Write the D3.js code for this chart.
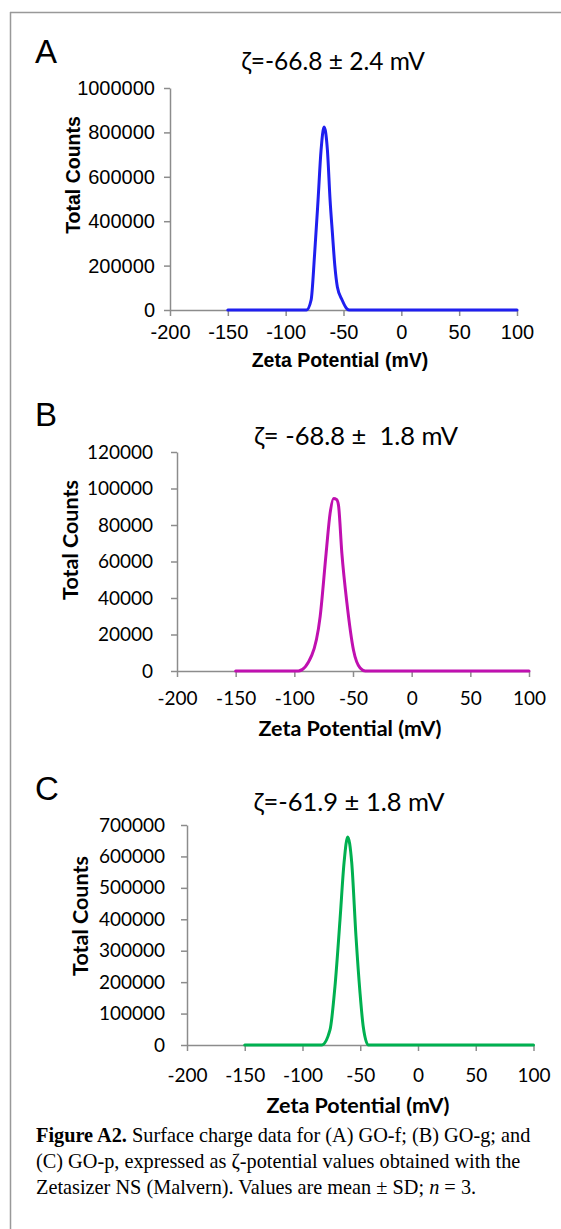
<!DOCTYPE html>
<html>
<head>
<meta charset="utf-8">
<script src="https://cdn.jsdelivr.net/npm/d3@7"></script>
<style>
  body { margin: 0; background: #fff; }
  text { white-space: pre; }
</style>
</head>
<body>
<svg id="fig" width="561" height="1229"></svg>
<script>
// x ticks shared by all three panels
var zetaTicks = [-200, -150, -100, -50, 0, 50, 100];

// panel A - GO-f
var zetaA = [-150, -120, -100, -82, -78, -75, -72, -69.4, -66.8, -63.9, -61.6, -59.6, -57.5, -55.3, -51.2, -47, -45, 0, 50, 100];
var countsA = [0, 0, 0, 0, 45000, 250000, 495000, 720000, 824000, 720000, 495000, 347000, 200000, 104000, 45000, 5000, 0, 0, 0, 0];
var yTicksA = [0, 200000, 400000, 600000, 800000, 1000000];

// panel B - GO-g
var zetaB = [-150, -120, -96.5, -85, -78, -72.9, -69.5, -66.5, -64, -62.4, -59.5, -55.2, -49.6, -43.9, -39.6, 0, 50, 100];
var countsB = [0, 0, 0, 8800, 29800, 64600, 86500, 94500, 94000, 91000, 64600, 37300, 11500, 1600, 0, 0, 0, 0];
var yTicksB = [0, 20000, 40000, 60000, 80000, 100000, 120000];

// panel C - GO-p
var zetaC = [-150, -120, -83.4, -76.2, -71.9, -67.5, -64, -60.9, -57.4, -53.7, -50.2, -47.4, -43, 0, 50, 100];
var countsC = [0, 0, 0, 48000, 186000, 400000, 581000, 662000, 581000, 346000, 166000, 58000, 0, 0, 0, 0];
var yTicksC = [0, 100000, 200000, 300000, 400000, 500000, 600000, 700000];

var panelLetters = ['A', 'B', 'C'];
var panelTitles = ['\u03b6=-66.8 \u00b1 2.4 mV', '\u03b6= -68.8 \u00b1  1.8 mV', '\u03b6=-61.9 \u00b1 1.8 mV'];

var panels = [
  { zeta: zetaA, counts: countsA, yTicks: yTicksA, color: '#1f1fef',
    left: 170, right: 517, top: 88, bottom: 310, font: 'Liberation Sans, Arial, sans-serif', tickSize: 20,
    yPad: 9, xPad: 9, letterY: 63, titleX: 333, titleY: 70, titleSize: 24.5,
    yTitleX: 80, yTitleY: 175, xTitleX: 340, xTitleY: 367, axisTitleSize: 19.5 },
  { zeta: zetaB, counts: countsB, yTicks: yTicksB, color: '#c010b0',
    left: 177, right: 529, top: 452, bottom: 671, font: 'Lato, sans-serif', tickSize: 19,
    yPad: 18, xPad: 15, letterY: 426, titleX: 356, titleY: 445, titleSize: 25.5,
    yTitleX: 78, yTitleY: 540, xTitleX: 350, xTitleY: 736, axisTitleSize: 21.5 },
  { zeta: zetaC, counts: countsC, yTicks: yTicksC, color: '#00b050',
    left: 187, right: 533.5, top: 825, bottom: 1045, font: 'Lato, sans-serif', tickSize: 19,
    yPad: 16, xPad: 18, letterY: 800, titleX: 349, titleY: 811, titleSize: 25.5,
    yTitleX: 88, yTitleY: 916, xTitleX: 358, xTitleY: 1113, axisTitleSize: 21.5 }
];

var svg = d3.select('#fig');
var axisGray = '#8c8c8c';

// frame round the figure
svg.append('line').attr('x1', 10).attr('x2', 561).attr('y1', 12.5).attr('y2', 12.5)
  .attr('stroke', '#999').attr('stroke-width', 1.5);
svg.append('line').attr('x1', 10.5).attr('x2', 10.5).attr('y1', 12).attr('y2', 1229)
  .attr('stroke', '#999').attr('stroke-width', 1.5);

panels.forEach(function(p, i) {
  var x = d3.scaleLinear().domain([-200, 100]).range([p.left, p.right]);
  var y = d3.scaleLinear().domain([0, d3.max(p.yTicks)]).range([p.bottom, p.top]);
  var g = svg.append('g');

  g.append('text').attr('x', 35).attr('y', p.letterY)
    .style('font-family', 'Liberation Sans, Arial, sans-serif').style('font-size', '33px')
    .text(panelLetters[i]);

  g.append('text').attr('x', p.titleX).attr('y', p.titleY)
    .attr('text-anchor', 'middle')
    .style('font-family', 'Lato, sans-serif').style('font-size', p.titleSize + 'px')
    .text(panelTitles[i]);

  var yAxis = g.append('g').attr('transform', 'translate(' + p.left + ',0)')
    .call(d3.axisLeft(y).tickValues(p.yTicks).tickSize(6).tickSizeOuter(0).tickPadding(p.yPad)
      .tickFormat(function(d) { return String(d); }));
  var xAxis = g.append('g').attr('transform', 'translate(0,' + p.bottom + ')')
    .call(d3.axisBottom(x).tickValues(zetaTicks).tickSize(6).tickSizeOuter(0).tickPadding(p.xPad)
      .tickFormat(function(d) { return String(d); }));

  [yAxis, xAxis].forEach(function(ax) {
    ax.select('.domain').attr('stroke', axisGray).attr('stroke-width', 1.5);
    ax.selectAll('.tick line').attr('stroke', axisGray).attr('stroke-width', 1.5);
    ax.selectAll('.tick text').attr('fill', '#000')
      .style('font-family', p.font).style('font-size', p.tickSize + 'px');
  });

  g.append('text')
    .attr('transform', 'translate(' + p.yTitleX + ',' + p.yTitleY + ') rotate(-90)')
    .attr('text-anchor', 'middle')
    .style('font-family', p.font).style('font-weight', 'bold').style('font-size', p.axisTitleSize + 'px')
    .text('Total Counts');

  g.append('text').attr('x', p.xTitleX).attr('y', p.xTitleY)
    .attr('text-anchor', 'middle')
    .style('font-family', p.font).style('font-weight', 'bold').style('font-size', p.axisTitleSize + 'px')
    .text('Zeta Potential (mV)');

  var points = p.zeta.map(function(z, k) { return [z, p.counts[k]]; });
  var line = d3.line()
    .x(function(d) { return x(d[0]); })
    .y(function(d) { return y(d[1]); })
    .curve(d3.curveMonotoneX);
  g.append('path').datum(points)
    .attr('d', line)
    .attr('fill', 'none')
    .attr('stroke', p.color)
    .attr('stroke-width', 3)
    .attr('stroke-linejoin', 'round')
    .attr('stroke-linecap', 'round');
});

// caption
var caption = svg.append('text')
  .style('font-family', 'Liberation Serif, Times New Roman, serif')
  .style('font-size', '20.3px');
var l1 = caption.append('tspan').attr('x', 36).attr('y', 1142);
l1.append('tspan').style('font-weight', 'bold').text('Figure A2.');
l1.append('tspan').text(' Surface charge data for (A) GO-f; (B) GO-g; and');
caption.append('tspan').attr('x', 36).attr('y', 1168)
  .text('(C) GO-p, expressed as \u03b6-potential values obtained with the');
var l3 = caption.append('tspan').attr('x', 36).attr('y', 1194);
l3.append('tspan').text('Zetasizer NS (Malvern). Values are mean \u00b1 SD; ');
l3.append('tspan').style('font-style', 'italic').text('n');
l3.append('tspan').text(' = 3.');
</script>
</body>
</html>
